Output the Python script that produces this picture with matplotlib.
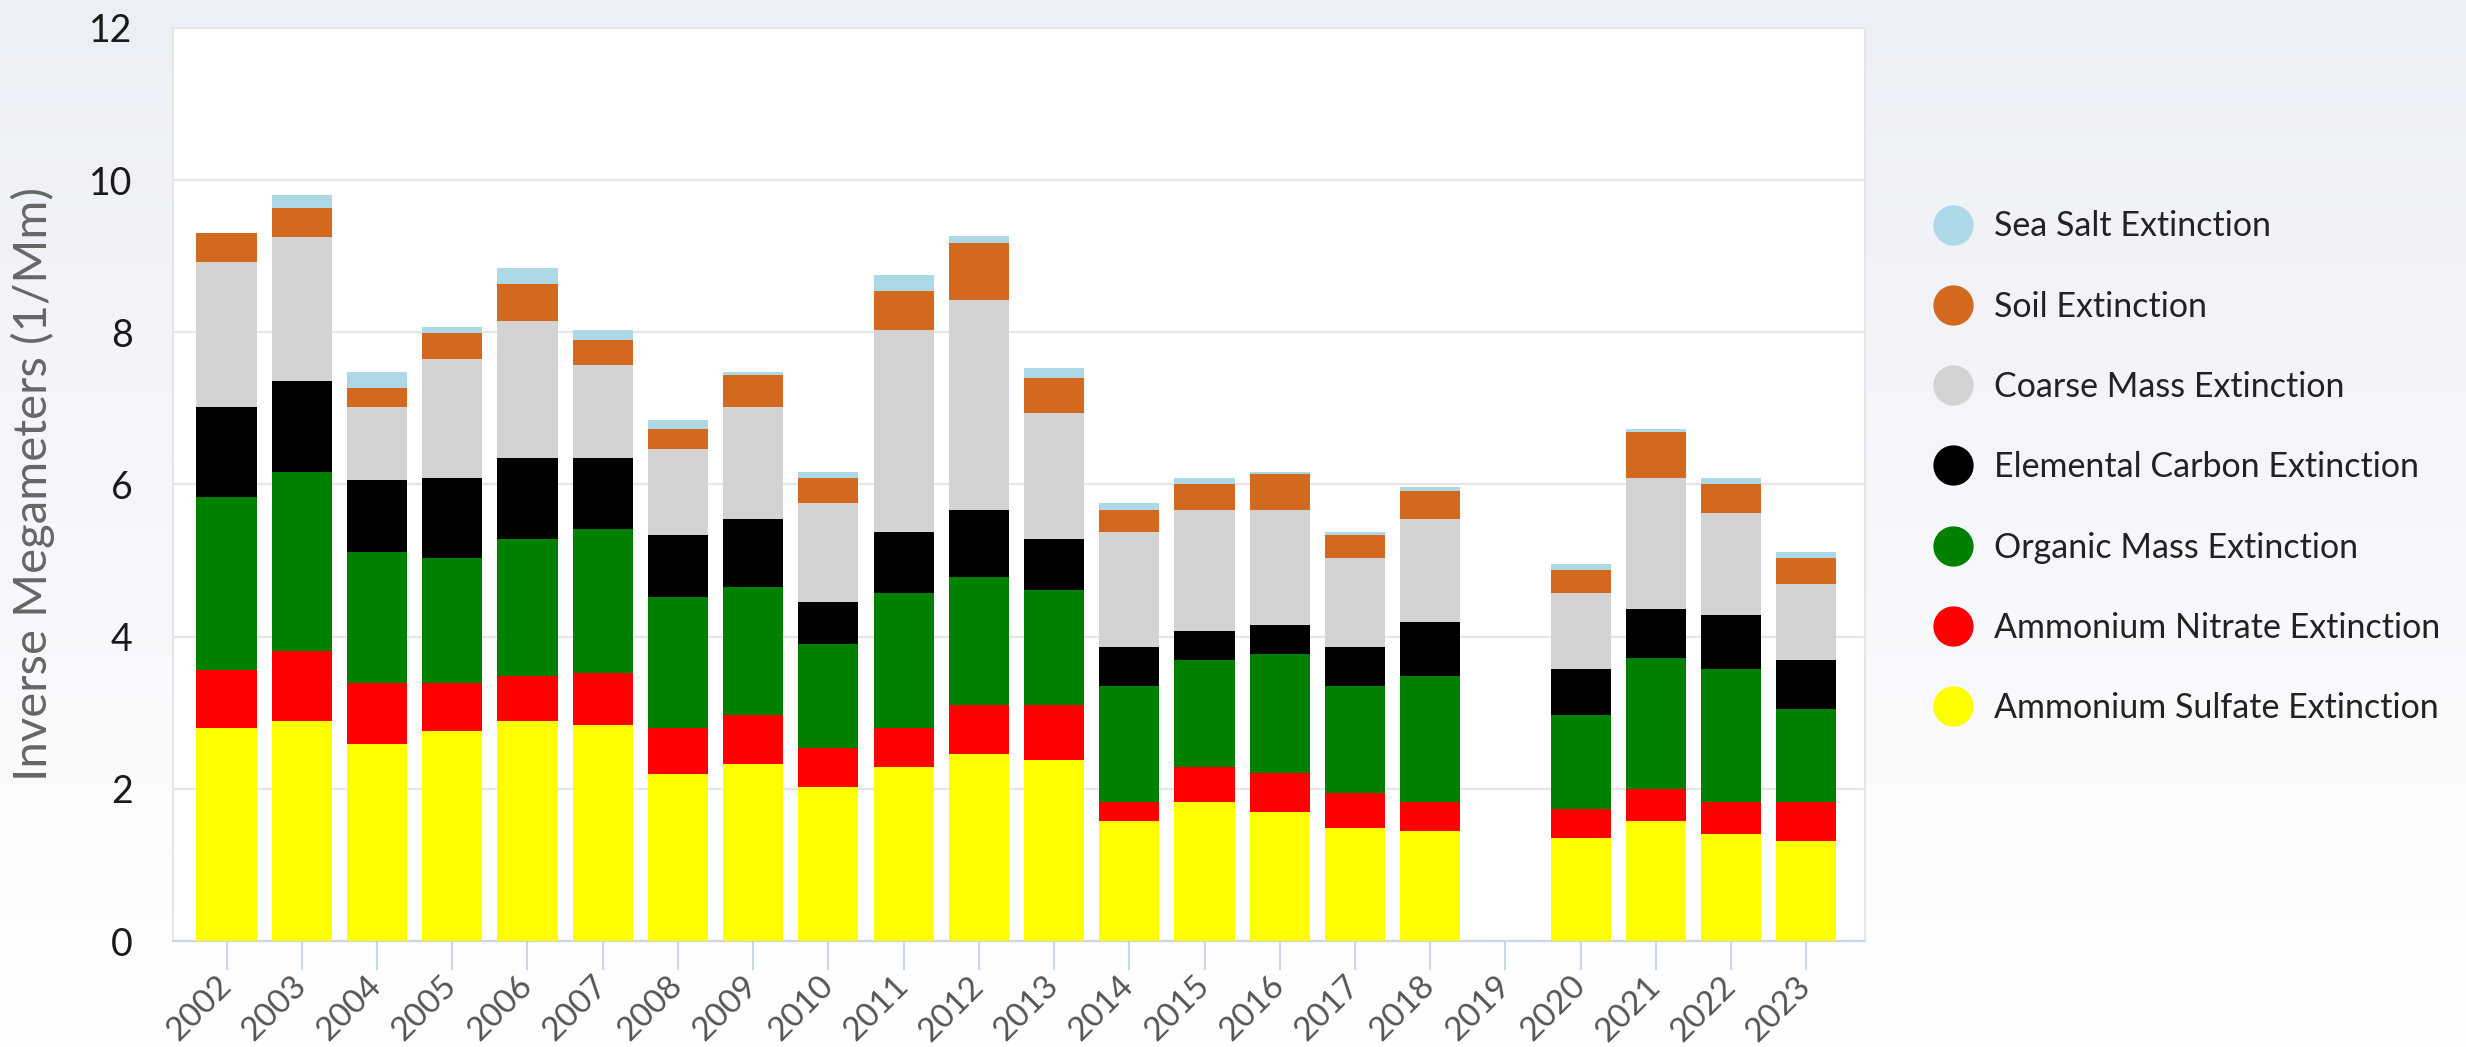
import numpy as np
import matplotlib.pyplot as plt
from matplotlib.lines import Line2D
from matplotlib.colors import LinearSegmentedColormap

plt.rcParams['font.family'] = ['Lato', 'DejaVu Sans']

nan = np.nan
years = [str(y) for y in range(2002, 2024)]

# extinction components, 1/Mm (2019 has no data)
sulfate   = [2.80, 2.89, 2.59, 2.76, 2.89, 2.84, 2.20, 2.33, 2.03, 2.29, 2.46, 2.38, 1.58, 1.83, 1.70, 1.49, 1.44, nan, 1.36, 1.58, 1.41, 1.32]
nitrate   = [0.76, 0.92, 0.80, 0.63, 0.59, 0.68, 0.60, 0.64, 0.51, 0.51, 0.64, 0.72, 0.25, 0.46, 0.51, 0.46, 0.39, nan, 0.38, 0.42, 0.42, 0.51]
organic   = [2.28, 2.36, 1.72, 1.65, 1.81, 1.89, 1.72, 1.68, 1.36, 1.77, 1.68, 1.51, 1.52, 1.40, 1.56, 1.40, 1.65, nan, 1.23, 1.72, 1.74, 1.22]
elemental = [1.18, 1.19, 0.95, 1.05, 1.06, 0.94, 0.81, 0.90, 0.55, 0.80, 0.89, 0.68, 0.51, 0.38, 0.38, 0.51, 0.71, nan, 0.60, 0.64, 0.71, 0.64]
coarse    = [1.90, 1.89, 0.96, 1.56, 1.80, 1.22, 1.14, 1.47, 1.31, 2.66, 2.75, 1.65, 1.52, 1.60, 1.52, 1.18, 1.36, nan, 1.00, 1.73, 1.35, 1.00]
soil      = [0.38, 0.39, 0.25, 0.34, 0.48, 0.33, 0.26, 0.42, 0.33, 0.51, 0.75, 0.46, 0.29, 0.34, 0.47, 0.29, 0.37, nan, 0.30, 0.60, 0.38, 0.35]
seasalt   = [0.00, 0.16, 0.21, 0.08, 0.21, 0.13, 0.12, 0.04, 0.08, 0.21, 0.09, 0.13, 0.09, 0.08, 0.03, 0.05, 0.05, nan, 0.08, 0.04, 0.08, 0.07]

series = [
    ('Ammonium Sulfate Extinction', sulfate, '#ffff00'),
    ('Ammonium Nitrate Extinction', nitrate, '#ff0000'),
    ('Organic Mass Extinction', organic, '#008000'),
    ('Elemental Carbon Extinction', elemental, '#000000'),
    ('Coarse Mass Extinction', coarse, '#d3d3d3'),
    ('Soil Extinction', soil, '#d2691e'),
    ('Sea Salt Extinction', seasalt, '#add8e6'),
]

fig = plt.figure(figsize=(24.66, 10.47), dpi=100)

# soft background gradient
bg = fig.add_axes([0, 0, 1, 1], zorder=-10)
grad = np.linspace(0, 1, 256).reshape(-1, 1)
cmap = LinearSegmentedColormap.from_list('bg', ['#ecEff5', '#f6f7fb', '#ffffff'])
bg.imshow(grad, aspect='auto', cmap=cmap, extent=[0, 1, 0, 1], origin='upper')
bg.axis('off')

ax = fig.add_axes([0.0702, 0.1012, 0.6861, 0.8721])
ax.set_facecolor('white')

x = np.arange(len(years))
bottom = np.zeros(len(years))
for name, vals, col in series:
    v = np.array(vals, dtype=float)
    ax.bar(x, v, 0.8, bottom=bottom, color=col, label=name, zorder=3, linewidth=0)
    bottom = bottom + v

ax.set_xlim(-0.71, 21.78)
ax.set_ylim(0, 12)
ax.set_yticks(range(0, 13, 2))
ax.yaxis.grid(True, color='#e6e6e6', linewidth=1.6, zorder=0)
ax.tick_params(axis='y', length=0, pad=29, labelsize=27, labelcolor='#1a1a1a')
ax.set_xticks(x)
ax.set_xticklabels(years, rotation=45, ha='right', va='center', rotation_mode='anchor')
ax.tick_params(axis='x', length=21, width=1.5, color='#ccd6eb', pad=8,
               labelsize=24, labelcolor='#555555')
for s in ['left', 'top', 'right']:
    ax.spines[s].set_color('#e6e6e6')
    ax.spines[s].set_linewidth(1.5)
ax.spines['bottom'].set_color('#ccd6eb')
ax.spines['bottom'].set_linewidth(1.6)
ax.set_ylabel('Inverse Megameters (1/Mm)', fontsize=34, color='#666666', labelpad=0)
ax.yaxis.set_label_coords(-0.0697, 0.5)

handles = [Line2D([], [], marker='o', linestyle='none', markersize=28, color=c)
           for _, _, c in series[::-1]]
labels = [n for n, _, _ in series[::-1]]
ax.legend(handles, labels, loc='upper left', bbox_to_anchor=(0.785, 0.799),
          bbox_transform=fig.transFigure, frameon=False, fontsize=24.5,
          handlelength=1.0, handletextpad=0.72, labelspacing=1.42, borderpad=0,
          borderaxespad=0, labelcolor='#222222')

fig.savefig('out.png', dpi=100)
